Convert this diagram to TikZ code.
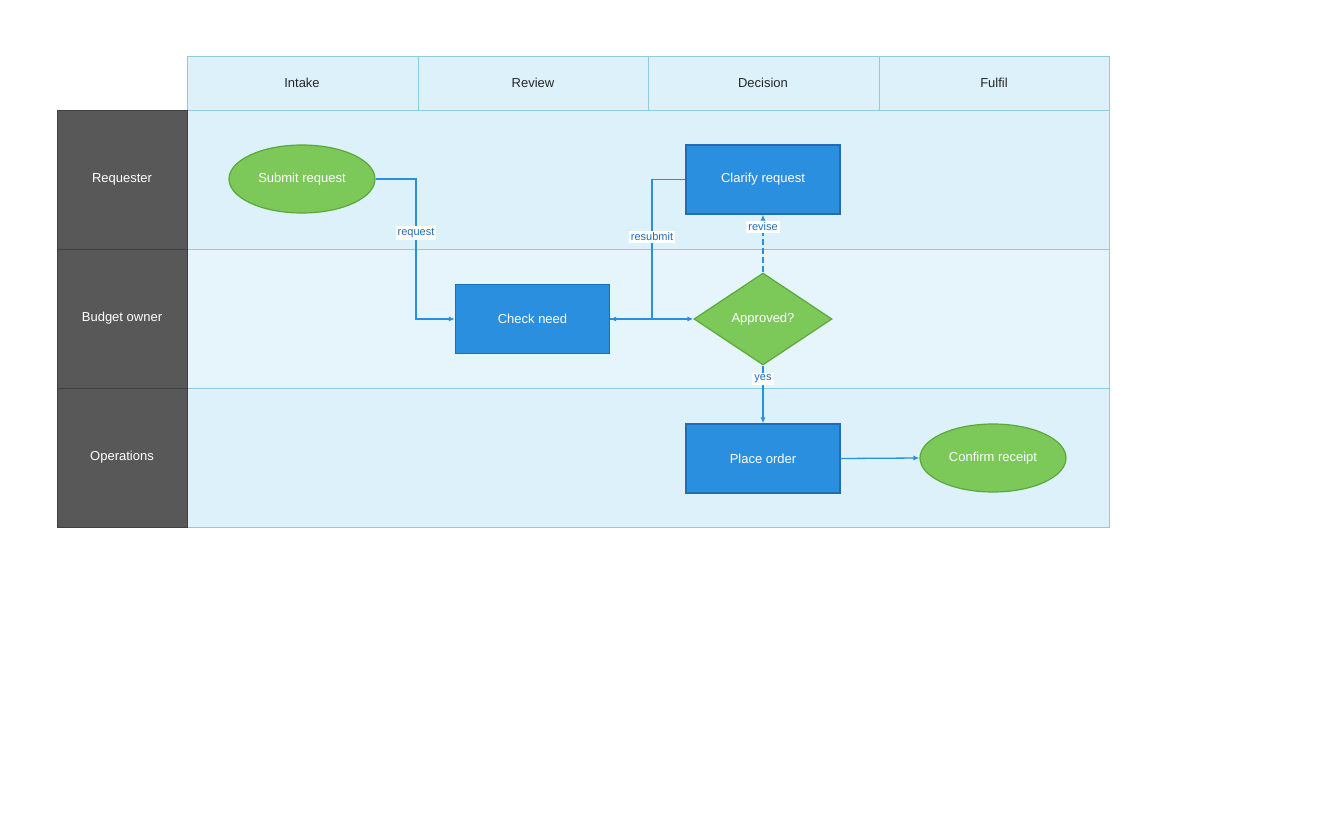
\documentclass[tikz,border=0pt]{standalone}
\usepackage{fontspec}
\setmainfont{Liberation Sans}
\usetikzlibrary{arrows.meta,shapes.geometric}
\definecolor{lanefill}{HTML}{DCF1FA}
\definecolor{lanemid}{HTML}{E6F5FC}
\definecolor{laneline}{HTML}{8CCBE3}
\definecolor{lanehead}{HTML}{585858}
\definecolor{boxblue}{HTML}{2B8FDF}
\definecolor{boxedge}{HTML}{1F6DB5}
\definecolor{termgreen}{HTML}{7CC95A}
\definecolor{termedge}{HTML}{5BA83B}
\definecolor{flowline}{HTML}{2B8FDF}
\definecolor{labeltext}{HTML}{1F6DB5}
\tikzset{
  taskbox/.style={draw=boxedge, line width=1.2pt, fill=boxblue, text=white,
    minimum width=154pt, minimum height=69pt, font=\fontsize{13}{15}\selectfont},
  termnode/.style={ellipse, draw=termedge, line width=1.2pt, fill=termgreen, text=white,
    minimum width=146pt, minimum height=68pt, inner sep=0pt, font=\fontsize{13}{15}\selectfont},
  gatenode/.style={diamond, draw=termedge, line width=1.2pt, fill=termgreen, text=white,
    minimum width=138pt, minimum height=92pt, inner sep=0pt, aspect=1.5,
    font=\fontsize{13}{15}\selectfont},
  flow/.style={draw=flowline, line width=1.3pt, -{Latex[length=6pt,width=5pt]}},
  edgelabel/.style={fill=white, text=labeltext, inner sep=2pt, font=\fontsize{11}{13}\selectfont},
  colhead/.style={font=\fontsize{13}{15}\selectfont, text=black!85},
  rowhead/.style={font=\fontsize{13}{15}\selectfont, text=white}
}
\begin{document}
\begin{tikzpicture}[x=1pt, y=-1pt]
    \useasboundingbox (0,0) rectangle (1344,816);

    % Column headers
    \fill[lanefill] (187,57) rectangle (1109,110);
    \foreach \x/\name in {302/Intake, 533/Review, 763/Decision, 994/Fulfil}
        \node[colhead] (col\name) at (\x,83) {\name};
    \foreach \x in {418,648,879}
        \draw[laneline, line width=1pt] (\x,57) -- (\x,110);
    \draw[laneline, line width=1pt] (187,57) rectangle (1109,110);

    % Lanes
    \fill[lanefill] (187,110) rectangle (1109,249);
    \fill[lanemid] (187,249) rectangle (1109,388);
    \fill[lanefill] (187,388) rectangle (1109,527);
    \foreach \y in {249,388}
        \draw[laneline, line width=1pt] (187,\y) -- (1109,\y);
    \draw[laneline, line width=1pt] (187,110) rectangle (1109,527);
    \foreach \y/\lane/\text in {110/req/Requester, 249/bud/Budget owner, 388/ops/Operations} {
        \draw[fill=lanehead, draw=black!75, line width=1pt] (57,\y) rectangle (187,\y+139);
        \node[rowhead] (lane\lane) at (122,\y+69.5) {\text};
    }

    % Nodes
    \node[termnode] (submit) at (302,179) {Submit request};
    \node[taskbox] (clarify) at (763,179.5) {Clarify request};
    \node[taskbox] (check) at (532.5,319) {Check need};
    \node[gatenode] (approved) at (763,319) {Approved?};
    \node[taskbox] (order) at (763,458.5) {Place order};
    \node[termnode] (confirm) at (993,458) {Confirm receipt};

    % Connectors
    \draw[flow] (submit.east) -| (416,250) |- (check.west);
    \node[edgelabel] (lblrequest) at (416,233) {request};
    \draw[flow] (clarify.west) -| (652,250) |- (check.east);
    \node[edgelabel] (lblresubmit) at (652,237) {resubmit};
    \draw[flow] (check.east) -- (approved.west);
    \draw[flow, dashed, dash pattern=on 6pt off 3pt] (approved.north) -- (clarify.south);
    \node[edgelabel] (lblrevise) at (763,227) {revise};
    \draw[flow] (approved.south) -- (order.north);
    \node[edgelabel] (lblyes) at (763,379) {yes};
    \draw[flow] (order.east) -- (confirm.west);
\end{tikzpicture}
\end{document}
